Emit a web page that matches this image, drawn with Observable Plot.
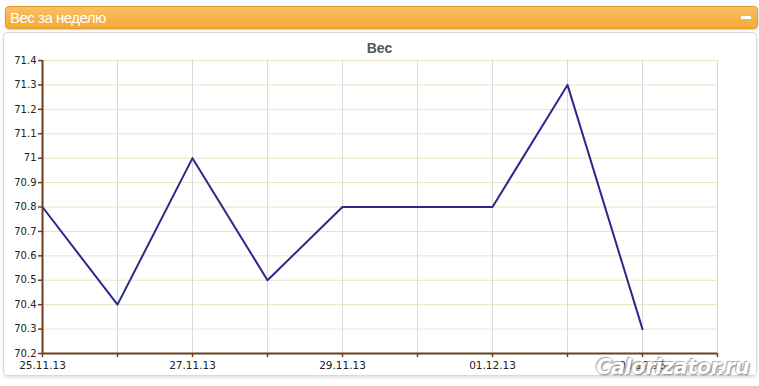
<!DOCTYPE html>
<html><head><meta charset="utf-8">
<script src="https://cdn.jsdelivr.net/npm/d3@7"></script>
<script src="https://cdn.jsdelivr.net/npm/@observablehq/plot@0.6"></script>
<style>
body{margin:0;background:#fff;}
#wrap{position:relative;width:759px;height:386px;overflow:hidden;background:#fff;}
#panel{position:absolute;left:3px;top:32px;width:752px;height:342px;border:1px solid #d9d9d9;border-radius:4px;box-shadow:0 2px 3px #e6e6e6;}
#hdr{position:absolute;left:5px;top:6px;width:751px;height:21px;border:1px solid #e39a2c;border-radius:4px;background:linear-gradient(#f9c063,#f4a935);box-shadow:0 1px 2px #ccc;}
#hdr span{position:absolute;left:4px;top:2px;color:#fff;font:15px "Liberation Sans Narrow","Liberation Sans",sans-serif;letter-spacing:-0.5px;}
#hdr i{position:absolute;right:6px;top:9px;width:10px;height:3px;background:#fff;}
#title{position:absolute;left:0;width:759px;top:40px;text-align:center;font:bold 14px "Liberation Sans",Arial,sans-serif;color:#555;}
#top{position:relative;height:40px;}
#chart{position:relative;}
#wm{position:absolute;left:596px;top:355px;font:italic bold 21px "DejaVu Sans",sans-serif;color:#fff;text-shadow:1px 1px 2px #777,-1px -1px 1px #aaa;letter-spacing:-0.5px;}
</style></head>
<body>
<div id="wrap">
  <div id="panel"></div>
  <div id="hdr"><span>Вес за неделю</span><i></i></div>
  <div id="title">Вес</div>
  <div id="top"></div>
  <div id="chart"></div>
  <div id="wm">Calorizator.ru</div>
</div>
<script>
const dates = ["2013-11-25","2013-11-26","2013-11-27","2013-11-28","2013-11-29","2013-11-30","2013-12-01","2013-12-02","2013-12-03"];
const weights = [70.8, 70.4, 71.0, 70.5, 70.8, 70.8, 70.8, 71.3, 70.3];
const xTickDates = ["2013-11-25","2013-11-26","2013-11-27","2013-11-28","2013-11-29","2013-11-30","2013-12-01","2013-12-02","2013-12-03","2013-12-04"];
const xTickLabels = ["25.11.13","","27.11.13","","29.11.13","","01.12.13","","03.12.13",""];
const yTicks = [70.2,70.3,70.4,70.5,70.6,70.7,70.8,70.9,71.0,71.1,71.2,71.3,71.4];
const yTickLabels = ["70.2","70.3","70.4","70.5","70.6","70.7","70.8","70.9","71","71.1","71.2","71.3","71.4"];

const parse = d3.utcParse("%Y-%m-%d");
const data = dates.map((d,i)=>({date:parse(d), w:weights[i]}));
const xt = xTickDates.map(parse);
const xLabel = new Map(xt.map((d,i)=>[+d, xTickLabels[i]]));
const yLabel = new Map(yTicks.map((v,i)=>[v, yTickLabels[i]]));
const axisColor = "#6b3f1f";

const plot = Plot.plot({
  width: 759, height: 346,
  marginLeft: 42, marginRight: 42, marginTop: 20, marginBottom: 33,
  style: {fontFamily: "'DejaVu Sans', Verdana, sans-serif", color: "#222", background: "transparent", overflow: "visible"},
  x: {type: "utc", domain: [xt[0], xt[xt.length-1]]},
  y: {domain: [70.2, 71.4]},
  marks: [
    Plot.ruleY(yTicks.slice(1), {stroke: "#ece3c2", strokeWidth: 1}),
    Plot.ruleX(xt.slice(1), {stroke: "#d9d9d9", strokeWidth: 1}),
    Plot.line(data, {x: "date", y: "w", stroke: "#2a2a8c", strokeWidth: 2}),
    Plot.axisY({ticks: yTicks, tickFormat: v => yLabel.get(Math.round(v*10)/10) ?? "", tickSize: 4, stroke: axisColor, strokeWidth: 1.5, fontSize: 10, tickPadding: 2, label: null, color: "#222"}),
    Plot.axisX({ticks: xt, tickFormat: d => xLabel.get(+d) ?? "", tickSize: 4, stroke: axisColor, strokeWidth: 1.5, fontSize: 10.5, tickPadding: 4, label: null, color: "#222"}),
    Plot.ruleX([xt[0]], {stroke: axisColor, strokeWidth: 2}),
    Plot.ruleY([70.2], {stroke: axisColor, strokeWidth: 2})
  ]
});
document.getElementById("chart").appendChild(plot);
</script>
</body></html>
